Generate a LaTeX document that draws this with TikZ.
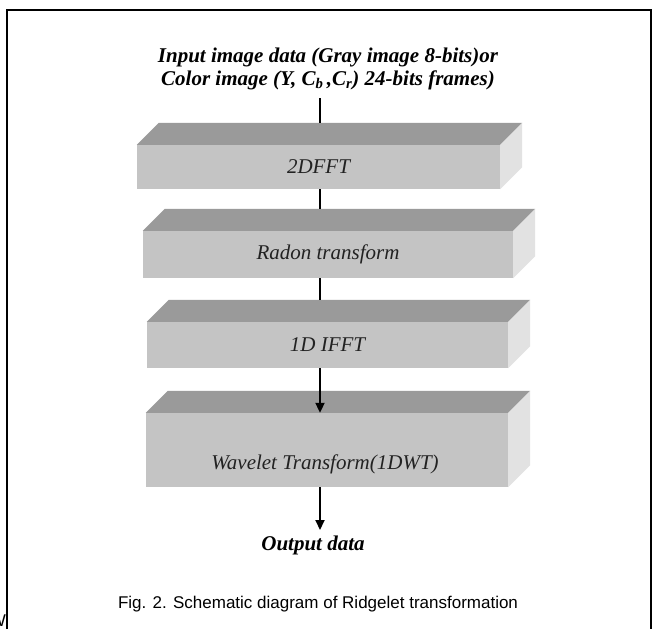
\documentclass[tikz,border=0pt]{standalone}
\usepackage{fontspec}
\setmainfont{Liberation Serif}
\newfontfamily\capfont{Liberation Sans}
\usetikzlibrary{arrows.meta}
\definecolor{topgray}{HTML}{9A9A9A}
\definecolor{frontgray}{HTML}{C4C4C4}
\definecolor{sidegray}{HTML}{E2E2E2}
\definecolor{labelgray}{HTML}{222222}
\tikzset{
  frontbox/.style={fill=frontgray, inner sep=0pt, text=labelgray,
    font=\fontsize{21}{23}\selectfont\itshape},
  topface/.style={fill=topgray},
  sideface/.style={fill=sidegray},
  ioText/.style={align=center, inner sep=0pt,
    font=\fontsize{21}{23}\selectfont\bfseries\itshape},
  link/.style={line width=2pt},
  arrowlink/.style={line width=2pt, -{Triangle[length=10pt,width=9pt]}},
  frame/.style={line width=2pt},
}
\newcommand{\cubefaces}[1]{%
  \fill[topface] (#1.north west) -- ([shift={(22,-22)}]#1.north west)
     -- ([shift={(22,-22)}]#1.north east) -- (#1.north east) -- cycle;
  \fill[sideface] (#1.north east) -- ([shift={(22,-22)}]#1.north east)
     -- ([shift={(22,-22)}]#1.south east) -- (#1.south east) -- cycle;
}
\begin{document}
\begin{tikzpicture}[x=1pt, y=-1pt]
\useasboundingbox[fill=white] (0,0) rectangle (653,629);
\draw[frame] (7,629) -- (7,10) -- (651,10) -- (651,629);
\node[font=\capfont\fontsize{17}{19}\selectfont, anchor=east, inner sep=0pt] (wfrag) at (6,621) {W};

\coordinate (axis) at (320,0);

\node[ioText] (in) at (328,69) {Input image data (Gray image 8-bits)or\\Color image (Y, C\textsubscript{b}\,,C\textsubscript{r}) 24-bits frames)};

\node[frontbox, minimum width=363pt, minimum height=44pt] (b1) at (318.5,167) {2DFFT};
\cubefaces{b1}
\node[frontbox, minimum width=370pt, minimum height=47pt] (b2) at (328,254.5) {Radon transform};
\cubefaces{b2}
\node[frontbox, minimum width=361pt, minimum height=46pt] (b3) at (327.5,345) {1D IFFT};
\cubefaces{b3}
\node[frontbox, minimum width=362pt, minimum height=74pt] (b4) at (327,450) {};
\cubefaces{b4}
\node[frontbox, fill=none] (l4) at (325,464) {Wavelet Transform(1DWT)};

\node[ioText] (out) at (313,545) {Output data};

\node[font=\capfont\fontsize{17}{19}\selectfont, inner sep=0pt] (cap) at (318,604) {Fig. 2. Schematic diagram of Ridgelet transformation};

\draw[link] (axis |- 0,98) -- ([yshift=22pt]b1.north -| axis);
\draw[link] (b1.south -| axis) -- ([yshift=22pt]b2.north -| axis);
\draw[link] (b2.south -| axis) -- ([yshift=22pt]b3.north -| axis);
\draw[arrowlink] (b3.south -| axis) -- (b4.north -| axis);
\draw[arrowlink] (b4.south -| axis) -- (axis |- 0,530);
\end{tikzpicture}
\end{document}
